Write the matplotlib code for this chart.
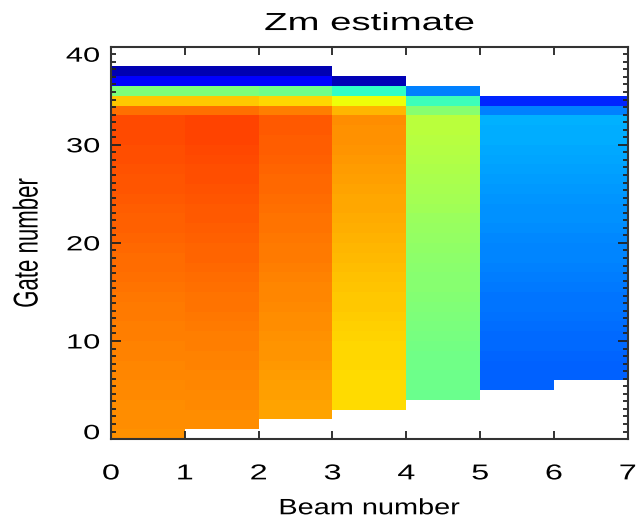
import numpy as np
import matplotlib
matplotlib.use('Agg')
import matplotlib.pyplot as plt
import matplotlib.patheffects as pe
from matplotlib.ticker import MultipleLocator
from matplotlib.transforms import Affine2D

# Zm estimate per beam, listed from the lowest valid gate upward (jet colour units 0..1)
first_gate = [0, 1, 2, 3, 4, 5, 6]

beam0 = [0.757, 0.758, 0.760, 0.761, 0.763, 0.765, 0.767, 0.769, 0.771, 0.773,
         0.775, 0.777, 0.779, 0.781, 0.784, 0.787, 0.790, 0.793, 0.796, 0.799,
         0.802, 0.805, 0.808, 0.811, 0.814, 0.817, 0.820, 0.823, 0.826, 0.828,
         0.830, 0.831, 0.832, 0.791, 0.698, 0.500, 0.115, 0.045]
beam1 = [0.760, 0.761, 0.762, 0.764, 0.766, 0.768, 0.770, 0.772, 0.775,
         0.777, 0.780, 0.783, 0.786, 0.789, 0.792, 0.795, 0.798, 0.801, 0.804,
         0.807, 0.810, 0.813, 0.816, 0.819, 0.822, 0.825, 0.828, 0.831, 0.834,
         0.836, 0.837, 0.838, 0.791, 0.698, 0.500, 0.115, 0.045]
beam2 = [0.735, 0.737, 0.740, 0.742, 0.745, 0.748, 0.750, 0.753,
         0.756, 0.758, 0.761, 0.764, 0.767, 0.769, 0.772, 0.775, 0.778, 0.780,
         0.783, 0.786, 0.789, 0.791, 0.794, 0.797, 0.800, 0.803, 0.806, 0.809,
         0.811, 0.813, 0.815, 0.775, 0.681, 0.486, 0.120, 0.045]
beam3 = [0.678, 0.678, 0.679, 0.679, 0.680, 0.681, 0.683,
         0.686, 0.689, 0.692, 0.696, 0.699, 0.703, 0.706, 0.710, 0.713, 0.717,
         0.720, 0.724, 0.727, 0.731, 0.734, 0.738, 0.741, 0.745, 0.749, 0.752,
         0.755, 0.757, 0.759, 0.715, 0.640, 0.409, 0.048]
beam4 = [0.480, 0.481, 0.483, 0.485, 0.488, 0.491,
         0.494, 0.497, 0.501, 0.504, 0.508, 0.512, 0.515, 0.519, 0.523, 0.527,
         0.531, 0.535, 0.539, 0.543, 0.547, 0.551, 0.556, 0.561, 0.566, 0.570,
         0.574, 0.576, 0.578, 0.515, 0.423, 0.250]
beam5 = [0.219, 0.220, 0.222, 0.224, 0.227,
         0.230, 0.233, 0.236, 0.239, 0.242, 0.245, 0.248, 0.251, 0.254, 0.257,
         0.260, 0.263, 0.266, 0.269, 0.272, 0.275, 0.279, 0.283, 0.287, 0.290,
         0.293, 0.295, 0.297, 0.250, 0.164]
beam6 = [0.220, 0.222, 0.224, 0.227,
         0.230, 0.233, 0.236, 0.239, 0.242, 0.245, 0.248, 0.251, 0.254, 0.257,
         0.260, 0.263, 0.266, 0.269, 0.272, 0.275, 0.279, 0.283, 0.287, 0.290,
         0.293, 0.295, 0.297, 0.250, 0.164]
beams = [beam0, beam1, beam2, beam3, beam4, beam5, beam6]

n_gates = 40
x_ticks = [0, 1, 2, 3, 4, 5, 6, 7]
y_ticks = [0, 10, 20, 30, 40]


class Stretch(pe.AbstractPathEffect):
    # the original picture was resized wider, so its glyphs are stretched sideways
    def __init__(self, sx=1.0, sy=1.0, anchor='center'):
        super().__init__()
        self.sx, self.sy, self.anchor = sx, sy, anchor

    def draw_path(self, renderer, gc, tpath, affine, rgbFace=None):
        ext = tpath.get_extents()
        cx = ext.x1 if self.anchor == 'right' else (ext.x0 + ext.x1) / 2
        cy = (ext.y0 + ext.y1) / 2
        t = Affine2D().translate(-cx, -cy).scale(self.sx, self.sy).translate(cx, cy)
        renderer.draw_path(gc, tpath, t + affine, rgbFace)


# сетка луч x строб
Z = np.full((n_gates, len(beams)), np.nan)
for b, vals in enumerate(beams):
    g0 = first_gate[b]
    Z[g0:g0 + len(vals), b] = vals
Z = np.ma.masked_invalid(Z)

plt.rcParams['font.family'] = ['Liberation Sans', 'DejaVu Sans']

fig = plt.figure(figsize=(6.38, 5.19), dpi=100)
ax = fig.add_axes([0.174, 0.154, 0.81, 0.756])

ax.pcolormesh(np.arange(len(beams) + 1), np.arange(n_gates + 1), Z,
              cmap='jet', vmin=0, vmax=1, shading='flat')

ax.set_xlim(0, 7)
ax.set_ylim(0, 40)
ax.set_xticks(x_ticks)
ax.set_yticks(y_ticks)
ax.yaxis.set_minor_locator(MultipleLocator(10 / 13))

ax.tick_params(axis='both', which='both', direction='in', top=True, right=True,
               color='#222222', width=1.3)
ax.tick_params(axis='x', which='major', length=6, pad=17.5, labelsize=15.5)
ax.tick_params(axis='y', which='major', length=7.5, pad=8, labelsize=14.8)
ax.tick_params(axis='y', which='minor', length=3.8)

for lab in ax.get_xticklabels():
    lab.set_path_effects([Stretch(sx=1.5)])
ylabels = ax.get_yticklabels()
for lab in ylabels:
    lab.set_path_effects([Stretch(sx=1.5, anchor='right')])
    lab.set_verticalalignment('center_baseline')
# IDL style: end labels kept inside the axis range
ylabels[0].set_verticalalignment('baseline')
ylabels[-1].set_verticalalignment('top')

for s in ax.spines.values():
    s.set_linewidth(1.5)
    s.set_color('#333333')

ax.set_title('Zm estimate', fontsize=17.8, pad=12, path_effects=[Stretch(sx=1.55)])
ax.set_xlabel('Beam number', fontsize=16, labelpad=10, path_effects=[Stretch(sx=1.3)])
ax.set_ylabel('Gate number', fontsize=16, path_effects=[Stretch(sy=1.55)])
ax.yaxis.set_label_coords(-0.141, 0.5)

fig.savefig('out.png', dpi=100)
